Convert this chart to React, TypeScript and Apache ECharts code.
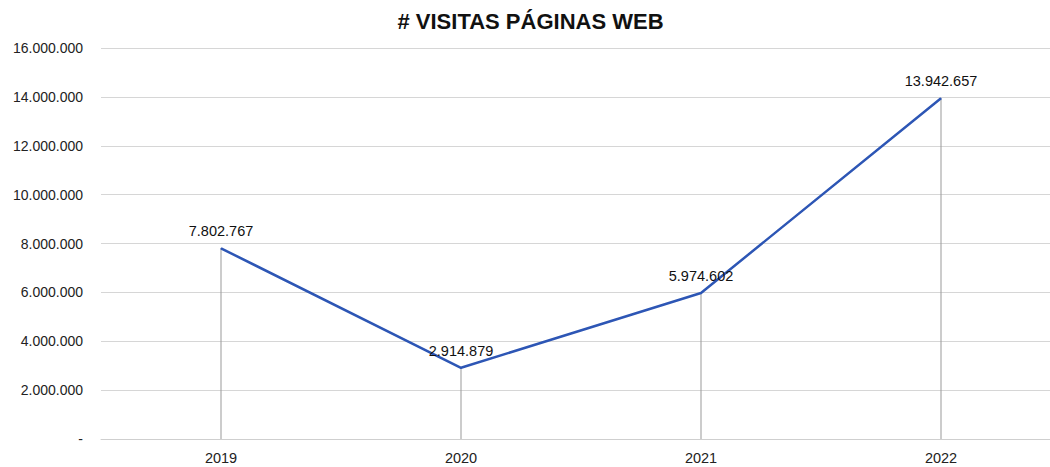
import React, { useEffect, useRef } from "react";
import * as echarts from "echarts";

const title = "# VISITAS PÁGINAS WEB";
const years = ["2019", "2020", "2021", "2022"];
const visits = [7802767, 2914879, 5974602, 13942657];
const yMax = 16000000;
const yInterval = 2000000;

const fmt = (v: number) =>
  v === 0 ? "-" : Math.round(v).toString().replace(/\B(?=(\d{3})+(?!\d))/g, ".");

export default function App() {
  const ref = useRef<HTMLDivElement>(null);
  useEffect(() => {
    document.body.style.margin = "0";
    document.body.style.overflow = "hidden";
    const chart = echarts.init(ref.current!, null, { renderer: "svg" });
    chart.setOption({
      animation: false,
      backgroundColor: "#ffffff",
      title: {
        text: title,
        left: "center",
        top: 5,
        textStyle: { fontFamily: "Liberation Sans, Arial", fontSize: 22, fontWeight: "bold", color: "#111" },
      },
      grid: { left: 101, right: 0, top: 48, bottom: 28, containLabel: false },
      xAxis: {
        type: "category",
        data: years,
        boundaryGap: true,
        axisLine: { show: true, lineStyle: { color: "#cfcfcf", width: 1 } },
        axisTick: { show: false },
        axisLabel: { fontFamily: "Liberation Sans, Arial", fontSize: 14.5, color: "#222", margin: 11 },
      },
      yAxis: {
        type: "value",
        min: 0,
        max: yMax,
        interval: yInterval,
        axisLine: { show: false },
        axisTick: { show: false },
        splitLine: { lineStyle: { color: "#d6d6d6", width: 1 } },
        axisLabel: {
          fontFamily: "Liberation Sans, Arial",
          fontSize: 14,
          color: "#222",
          margin: 18,
          formatter: (v: number) => fmt(v),
        },
      },
      series: [
        {
          type: "bar",
          data: visits,
          barWidth: 1,
          itemStyle: { color: "#9a9a9a" },
          silent: true,
          z: 1,
        },
        {
          type: "line",
          data: visits,
          showSymbol: true,
          symbol: "circle",
          symbolSize: 1,
          itemStyle: { color: "#2d56b5" },
          lineStyle: { color: "#2d56b5", width: 2.5 },
          z: 3,
          label: {
            show: true,
            position: "top",
            distance: 9,
            fontFamily: "Liberation Sans, Arial",
            fontSize: 14.5,
            color: "#111",
            formatter: (p: any) => fmt(p.value),
          },
        },
      ],
    });
    return () => chart.dispose();
  }, []);
  return (
    <div style={{ width: 1050, height: 467, overflow: "hidden" }}>
      <div ref={ref} style={{ width: 1061, height: 467 }} />
    </div>
  );
}
